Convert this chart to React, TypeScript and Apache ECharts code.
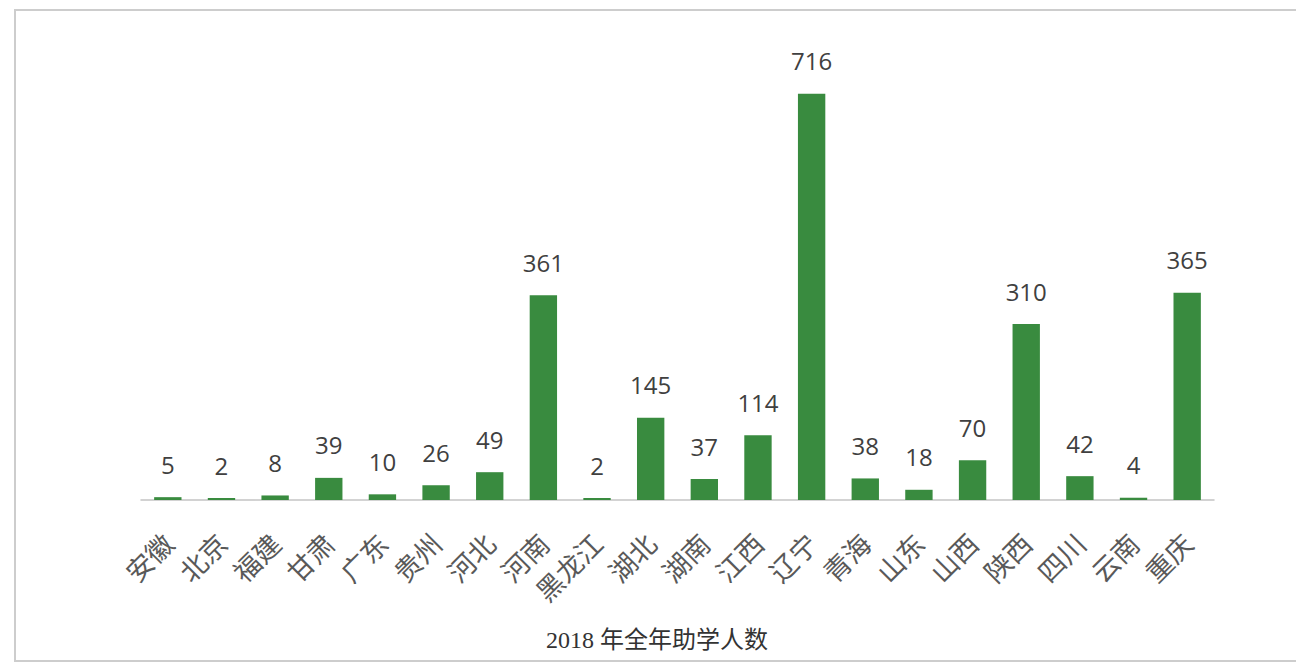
import React, { useEffect, useRef } from "react";
import * as echarts from "echarts";

const provinces = ["安徽", "北京", "福建", "甘肃", "广东", "贵州", "河北", "河南", "黑龙江", "湖北", "湖南", "江西", "辽宁", "青海", "山东", "山西", "陕西", "四川", "云南", "重庆"];
const students = [5, 2, 8, 39, 10, 26, 49, 361, 2, 145, 37, 114, 716, 38, 18, 70, 310, 42, 4, 365];
const chartTitle = "2018 年全年助学人数";

export default function App() {
  const ref = useRef<HTMLDivElement>(null);
  useEffect(() => {
    if (!ref.current) return;
    const chart = echarts.init(ref.current, null, { renderer: "svg" });
    chart.setOption({
      animation: false,
      backgroundColor: "#ffffff",
      grid: { left: 141, right: 82, top: 46, bottom: 163 },
      xAxis: {
        type: "category",
        data: provinces,
        axisLine: { lineStyle: { color: "#c4c4c4", width: 1.5 } },
        axisTick: { show: false },
        axisLabel: {
          rotate: 45,
          margin: 38,
          interval: 0,
          fontSize: 27,
          color: "#595959",
          fontFamily: "'Noto Sans CJK SC', sans-serif",
        },
      },
      yAxis: { type: "value", min: 0, max: 800, show: false, splitLine: { show: false } },
      series: [
        {
          type: "bar",
          data: students,
          barWidth: "51%",
          barMinHeight: 2,
          itemStyle: { color: "#398b3f" },
          label: {
            show: true,
            position: "top",
            distance: 21,
            fontSize: 24,
            color: "#404040",
            fontFamily: "'Open Sans', sans-serif",
          },
        },
      ],
      graphic: [
        {
          type: "rect",
          shape: { x: 15, y: 10, width: 1300, height: 651 },
          style: { fill: "none", stroke: "#cdcdcd", lineWidth: 2 },
          silent: true,
        },
        {
          type: "text",
          x: 657,
          y: 640,
          style: {
            text: chartTitle,
            fontSize: 24,
            fill: "#333333",
            fontFamily: "'Liberation Serif', 'Noto Sans CJK SC', serif",
            textAlign: "center",
            textVerticalAlign: "middle",
          },
        },
      ],
    });
    return () => chart.dispose();
  }, []);
  return <div ref={ref} style={{ position: "fixed", left: 0, top: 0, width: 1296, height: 663 }} />;
}
